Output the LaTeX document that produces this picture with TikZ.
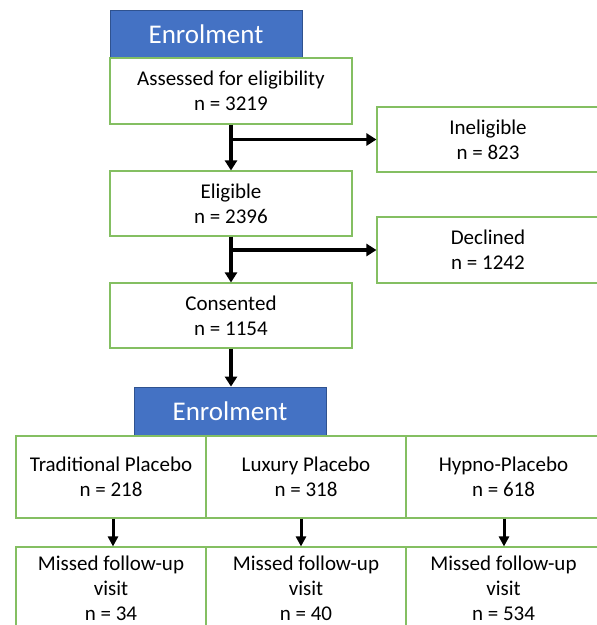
\documentclass[tikz,border=0pt]{standalone}
\usepackage{fontspec}
\setmainfont{Carlito}
\usetikzlibrary{arrows.meta}
\definecolor{hdrblue}{HTML}{4472C4}
\definecolor{hdredge}{HTML}{2F528F}
\definecolor{boxgreen}{HTML}{84BF62}
\begin{document}
\begin{tikzpicture}[x=1pt,y=-1pt,
  hdr/.style={draw=hdredge,line width=0.8pt,fill=hdrblue,text=white,inner sep=0pt,
    minimum width=192pt,minimum height=48pt,font=\fontsize{27}{32}\selectfont},
  gbox/.style={draw=boxgreen,line width=1.1pt,fill=white,inner sep=0pt,align=center,
    font=\fontsize{21}{25}\selectfont},
  arr/.style={line width=3.6pt,-{Triangle[width=12pt,length=10pt]}},
  arrs/.style={line width=3pt,-{Triangle[width=10pt,length=10pt]}}]
\clip (0,0) rectangle (597,625);
\fill[white] (0,0) rectangle (597,625);
% top column
\node[hdr] (enr1) at (206,34) {Enrolment};
\node[gbox,minimum width=242pt,minimum height=66pt] (assess) at (231,91) {Assessed for eligibility\\n = 3219};
\node[gbox,minimum width=222pt,minimum height=65pt] (inel) at (488,139.5) {Ineligible\\n = 823};
\node[gbox,minimum width=242pt,minimum height=65pt] (elig) at (231,203.5) {Eligible\\n = 2396};
\node[gbox,minimum width=222pt,minimum height=66pt] (decl) at (488,250) {Declined\\n = 1242};
\node[gbox,minimum width=242pt,minimum height=65pt] (cons) at (231,315.5) {Consented\\n = 1154};
% second stage
\node[hdr,minimum height=49pt] (enr2) at (230,411.5) {Enrolment};
\node[gbox,minimum width=190pt,minimum height=82pt] (trad) at (111,477) {Traditional Placebo\\n = 218};
\node[gbox,minimum width=200pt,minimum height=82pt] (lux) at (306,477) {Luxury Placebo\\n = 318};
\node[gbox,minimum width=195pt,minimum height=82pt] (hyp) at (503.5,477) {Hypno-Placebo\\n = 618};
\node[gbox,minimum width=190pt,minimum height=82pt] (miss1) at (111,588) {Missed follow-up\\visit\\n = 34};
\node[gbox,minimum width=200pt,minimum height=82pt] (miss2) at (306,588) {Missed follow-up\\visit\\n = 40};
\node[gbox,minimum width=195pt,minimum height=82pt] (miss3) at (503.5,588) {Missed follow-up\\visit\\n = 534};
% connectors
\draw[arr] (assess.south) -- (elig.north);
\coordinate (b1) at (assess.south |- inel.west);
\draw[arr] (b1) -- (inel.west);
\draw[arr] (elig.south) -- (cons.north);
\coordinate (b2) at (elig.south |- decl.west);
\draw[arr] (b2) -- (decl.west);
\draw[arr] (cons.south) -- (cons.south |- enr2.north);
\draw[arrs] ([xshift=2pt]trad.south) -- ([xshift=2pt]miss1.north);
\draw[arrs] ([xshift=-5pt]lux.south) -- ([xshift=-5pt]miss2.north);
\draw[arrs] ([xshift=0.5pt]hyp.south) -- ([xshift=0.5pt]miss3.north);
\end{tikzpicture}
\end{document}
